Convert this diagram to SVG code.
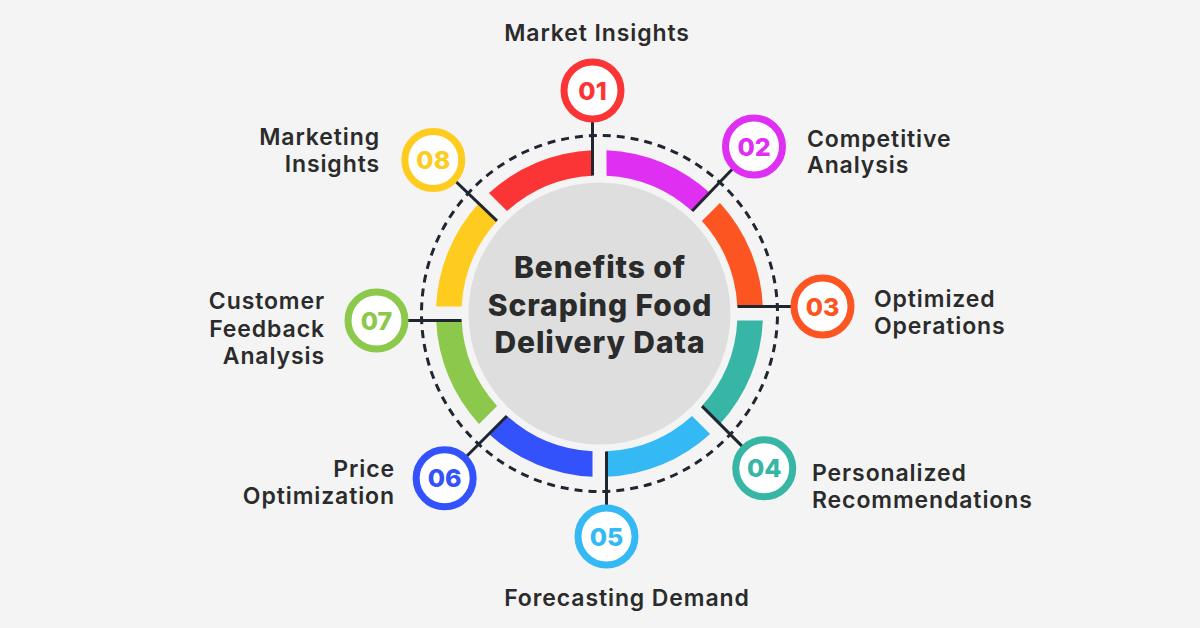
<svg xmlns="http://www.w3.org/2000/svg" xmlns:xlink="http://www.w3.org/1999/xlink" width="1200" height="628" viewBox="0 0 1200 628">
  <style>
    .lbl { font-family: Inter, "Liberation Sans", sans-serif; font-weight: 600; font-size: 23px; letter-spacing: 0.9px; fill: #2b2b2b; }
    .num { font-family: Inter, "Liberation Sans", sans-serif; font-weight: 800; font-size: 25px; text-anchor: middle; }
    .ttl { font-family: Inter, "Liberation Sans", sans-serif; font-weight: 800; font-size: 30px; letter-spacing: 0.9px; fill: #2b2b2b; text-anchor: middle; }
    .badge { fill: #ffffff; stroke-width: 7; }
    .conn { stroke: #1f2630; stroke-width: 3; fill: none; }
    .end { text-anchor: end; }
    .mid { text-anchor: middle; }
  </style>
  <defs>
    <path id="seg" d="M 7 -163.35 A 163.5 163.5 0 0 1 110.556 -120.456 L 92.505 -102.405 A 138 138 0 0 0 7 -137.822 Z"/>
  </defs>
  <rect x="0" y="0" width="1200" height="628" fill="#f4f4f4"/>

  <!-- dashed guide circle -->
  <circle id="guide" cx="599.5" cy="313.5" r="178" fill="none" stroke="#1f2630" stroke-width="3" stroke-dasharray="8 5.98" stroke-dashoffset="11"/>

  <!-- ring segments -->
  <g id="ring" transform="translate(599.5 313.5)">
    <use xlink:href="#seg" href="#seg" fill="#df2ff2"/>
    <use xlink:href="#seg" href="#seg" fill="#fc5521" transform="rotate(45)"/>
    <use xlink:href="#seg" href="#seg" fill="#37b5a5" transform="rotate(90)"/>
    <use xlink:href="#seg" href="#seg" fill="#35b9f4" transform="rotate(135)"/>
    <use xlink:href="#seg" href="#seg" fill="#3452fc" transform="rotate(180)"/>
    <use xlink:href="#seg" href="#seg" fill="#8cc84b" transform="rotate(225)"/>
    <use xlink:href="#seg" href="#seg" fill="#fecc1f" transform="rotate(270)"/>
    <use xlink:href="#seg" href="#seg" fill="#fb3535" transform="rotate(315)"/>
  </g>

  <!-- center -->
  <g id="center">
    <circle cx="599.5" cy="313.5" r="131" fill="#dedede"/>
    <text class="ttl" x="600" y="278">Benefits of</text>
    <text class="ttl" x="600" y="315.5">Scraping Food</text>
    <text class="ttl" x="600" y="353">Delivery Data</text>
  </g>

  <!-- connectors -->
  <g id="connectors" class="conn">
    <line x1="592.5" y1="175.5" x2="592.5" y2="90.5"/>
    <line x1="692.13" y1="210.97" x2="754" y2="146.5"/>
    <line x1="737.5" y1="306.5" x2="822.5" y2="306.5"/>
    <line x1="702.03" y1="406.13" x2="764.25" y2="468.35"/>
    <line x1="606.5" y1="451.5" x2="606.5" y2="536.5"/>
    <line x1="506.87" y1="416.03" x2="444.65" y2="478.25"/>
    <line x1="461.5" y1="320.5" x2="376.5" y2="320.5"/>
    <line x1="496.97" y1="220.87" x2="433.3" y2="160"/>
  </g>

  <g id="node-01">
    <circle class="badge" cx="592.5" cy="90.5" r="28.5" stroke="#fb3535"/>
    <text class="num" x="592.5" y="99.5" fill="#fb3535">01</text>
    <text class="lbl mid" x="597" y="41">Market Insights</text>
  </g>
  <g id="node-02">
    <circle class="badge" cx="754" cy="146.5" r="28.5" stroke="#df2ff2"/>
    <text class="num" x="754" y="155.5" fill="#df2ff2">02</text>
    <text class="lbl" x="807" y="146.5">Competitive</text>
    <text class="lbl" x="807" y="172.5">Analysis</text>
  </g>
  <g id="node-03">
    <circle class="badge" cx="822.5" cy="306.5" r="28.5" stroke="#fc5521"/>
    <text class="num" x="822.5" y="315.5" fill="#fc5521">03</text>
    <text class="lbl" x="874" y="307">Optimized</text>
    <text class="lbl" x="874" y="334">Operations</text>
  </g>
  <g id="node-04">
    <circle class="badge" cx="764.25" cy="468.35" r="28.5" stroke="#37b5a5"/>
    <text class="num" x="764.25" y="477.35" fill="#37b5a5">04</text>
    <text class="lbl" x="812" y="481">Personalized</text>
    <text class="lbl" x="812" y="508">Recommendations</text>
  </g>
  <g id="node-05">
    <circle class="badge" cx="606.5" cy="536.5" r="28.5" stroke="#35b9f4"/>
    <text class="num" x="606.5" y="545.5" fill="#35b9f4">05</text>
    <text class="lbl mid" x="627" y="606">Forecasting Demand</text>
  </g>
  <g id="node-06">
    <circle class="badge" cx="444.65" cy="478.25" r="28.5" stroke="#3452fc"/>
    <text class="num" x="444.65" y="487.25" fill="#3452fc">06</text>
    <text class="lbl end" x="395" y="477">Price</text>
    <text class="lbl end" x="395" y="504">Optimization</text>
  </g>
  <g id="node-07">
    <circle class="badge" cx="376.5" cy="320.5" r="28.5" stroke="#8cc84b"/>
    <text class="num" x="376.5" y="329.5" fill="#8cc84b">07</text>
    <text class="lbl end" x="325" y="309">Customer</text>
    <text class="lbl end" x="325" y="336.5">Feedback</text>
    <text class="lbl end" x="325" y="364">Analysis</text>
  </g>
  <g id="node-08">
    <circle class="badge" cx="433.3" cy="160" r="28.5" stroke="#fecc1f"/>
    <text class="num" x="433.3" y="169" fill="#fecc1f">08</text>
    <text class="lbl end" x="380" y="145">Marketing</text>
    <text class="lbl end" x="380" y="172">Insights</text>
  </g>
</svg>
